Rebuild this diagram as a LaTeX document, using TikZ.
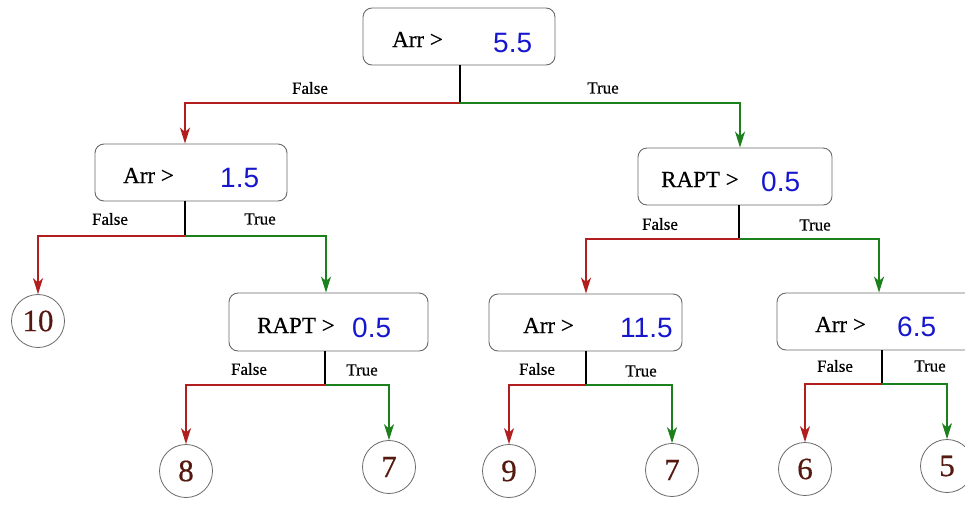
\documentclass[tikz,border=0pt]{standalone}
\usepackage{fontspec}
\setmainfont{Liberation Serif}
\newfontfamily\numfont{Liberation Sans}
\newfontfamily\heavyserif[FakeBold=0.5]{Liberation Serif}
\usetikzlibrary{arrows.meta}

\definecolor{falsered}{RGB}{178,30,30}
\definecolor{truegreen}{RGB}{28,128,28}
\definecolor{valblue}{RGB}{22,22,205}
\definecolor{leafbrown}{RGB}{85,25,15}
\definecolor{boxgray}{RGB}{105,105,105}

\tikzset{
  cond/.style={draw=boxgray, line width=0.9pt, rounded corners=9pt,
               rectangle, inner sep=0pt, minimum height=57pt},
  leaf/.style={draw=boxgray, line width=0.8pt, circle, minimum size=53pt,
               inner sep=0pt, text=leafbrown,
               font=\heavyserif\fontsize{31}{31}\selectfont},
  attr/.style={anchor=base west, inner sep=0pt,
               font=\heavyserif\fontsize{23}{23}\selectfont},
  val/.style={anchor=base west, inner sep=0pt, text=valblue,
              font=\numfont\fontsize{28}{28}\selectfont},
  edgelbl/.style={inner sep=0pt, font=\heavyserif\fontsize{17}{17}\selectfont},
  stemline/.style={draw=black, line width=1.4pt},
  falsearrow/.style={draw=falsered, line width=1.4pt,
                     -{Stealth[length=16pt,width=10pt,inset=4.5pt]}},
  truearrow/.style={draw=truegreen, line width=1.4pt,
                    -{Stealth[length=16pt,width=10pt,inset=4.5pt]}}
}

\begin{document}
\begin{tikzpicture}[x=1pt, y=-1pt]
\useasboundingbox (0,0) rectangle (965,504);

% ---- decision boxes ----
\node[cond, minimum width=192pt] (b0) at (459,36.5) {};
\node[attr] (b0a) at (392,47) {Arr >};
\node[val]  (b0v) at (493,52) {5.5};

\node[cond, minimum width=192pt] (b1) at (191,172.5) {};
\node[attr] (b1a) at (123,183) {Arr >};
\node[val]  (b1v) at (220,187) {1.5};

\node[cond, minimum width=199pt, minimum height=58pt] (b2) at (328.5,322) {};
\node[attr] (b2a) at (257,333) {RAPT >};
\node[val]  (b2v) at (352,337) {0.5};

\node[cond, minimum width=194pt] (b3) at (735,176.5) {};
\node[attr] (b3a) at (661,187) {RAPT >};
\node[val]  (b3v) at (761,191) {0.5};

\node[cond, minimum width=193pt] (b4) at (585.5,322.5) {};
\node[attr] (b4a) at (523,333) {Arr >};
\node[val]  (b4v) at (620,337) {11.5};

\node[cond, minimum width=210pt] (b5) at (882,321.5) {};
\node[attr] (b5a) at (815,332) {Arr >};
\node[val]  (b5v) at (897,336) {6.5};

% ---- leaves ----
\node[leaf] (l10) at (38,321) {10};
\node[leaf] (l8)  at (186,471) {8};
\node[leaf] (l7a) at (389,467) {7};
\node[leaf] (l9)  at (509,471) {9};
\node[leaf] (l7b) at (672,470) {7};
\node[leaf] (l6)  at (805,469) {6};
\node[leaf] (l5)  at (947,466) {5};

% ---- branch points ----
\coordinate (j0) at (460,103);
\coordinate (j1) at (185,236);
\coordinate (j2) at (325,385);
\coordinate (j3) at (739,239);
\coordinate (j4) at (586,385);
\coordinate (j5) at (882,384);

% ---- connectors ----
\draw[stemline] (b0.south -| j0) -- (j0);
\draw[falsearrow] (j0) -| (b1.north -| j1);
\draw[truearrow]  (j0) -| ([xshift=1pt]b3.north -| j3);

\draw[stemline] (b1.south -| j1) -- (j1);
\draw[falsearrow] (j1) -| (l10.north);
\draw[truearrow]  (j1) -| ([xshift=1pt]b2.north -| j2);

\draw[stemline] (b2.south -| j2) -- (j2);
\draw[falsearrow] (j2) -| (l8.north);
\draw[truearrow]  (j2) -| (l7a.north);

\draw[stemline] (b3.south -| j3) -- (j3);
\draw[falsearrow] (j3) -| (b4.north -| j4);
\draw[truearrow]  (j3) -| ([xshift=-3pt]b5.north -| j5);

\draw[stemline] (b4.south -| j4) -- (j4);
\draw[falsearrow] (j4) -| (l9.north);
\draw[truearrow]  (j4) -| (l7b.north);

\draw[stemline] (b5.south -| j5) -- (j5);
\draw[falsearrow] (j5) -| (l6.north);
\draw[truearrow]  (j5) -| (l5.north);

% ---- branch labels ----
\node[edgelbl] (f0) at (310,88)  {False};
\node[edgelbl] (t0) at (603,88)  {True};
\node[edgelbl] (f1) at (110,219) {False};
\node[edgelbl] (t1) at (260,219) {True};
\node[edgelbl] (f2) at (249,369) {False};
\node[edgelbl] (t2) at (362,370) {True};
\node[edgelbl] (f3) at (660,224) {False};
\node[edgelbl] (t3) at (815,225) {True};
\node[edgelbl] (f4) at (537,369) {False};
\node[edgelbl] (t4) at (641,371) {True};
\node[edgelbl] (f5) at (835,366) {False};
\node[edgelbl] (t5) at (930,366) {True};
\end{tikzpicture}
\end{document}
